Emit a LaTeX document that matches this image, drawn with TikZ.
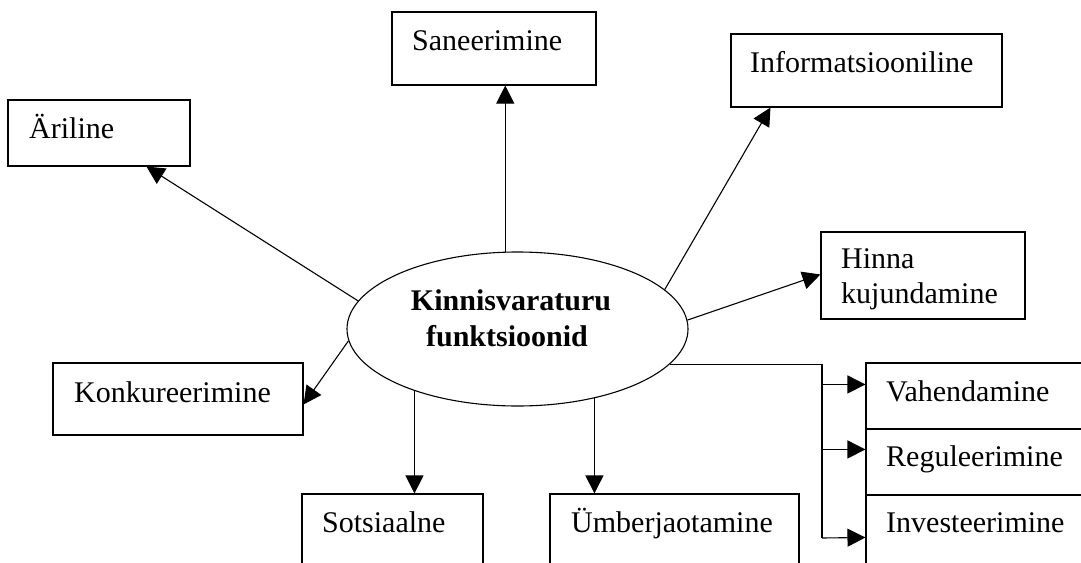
\documentclass[tikz,border=0pt]{standalone}
\usepackage{fontspec}
\setmainfont{Liberation Serif}
\usetikzlibrary{shapes.geometric,arrows.meta,calc}
\begin{document}
\begin{tikzpicture}[x=1pt,y=-1pt,
  box/.style={draw, rectangle, line width=1.1pt, inner sep=0pt},
  lbl/.style={anchor=base west, inner sep=0pt, font=\fontsize{30}{36}\selectfont},
  hubtext/.style={anchor=base, inner sep=0pt, font=\fontsize{30}{36}\selectfont\bfseries},
  hub/.style={draw, ellipse, line width=1.1pt, inner sep=0pt,
              minimum width=341pt, minimum height=154pt},
  wire/.style={line width=1.1pt},
  arr/.style={line width=1.1pt, -{Triangle[length=18pt,width=18pt]}}]
\useasboundingbox (0,0) rectangle (1081,562);
\clip (0,0) rectangle (1081,562);

% central ellipse
\node[hub] (ell) at (517.5,329) {};
\node[hubtext] (ellA) at (511,310) {Kinnisvaraturu};
\node[hubtext] (ellB) at (507,346) {funktsioonid};

% function boxes
\node[box, minimum width=182pt, minimum height=66pt] (ari) at (99,133) {};
\node[lbl] (ariT) at (29,138) {Äriline};

\node[box, minimum width=204pt, minimum height=73pt] (san) at (494,48.5) {};
\node[lbl] (sanT) at (412,50) {Saneerimine};

\node[box, minimum width=271pt, minimum height=73pt] (inf) at (866.5,70.5) {};
\node[lbl] (infT) at (750,72) {Informatsiooniline};

\node[box, minimum width=204pt, minimum height=87pt] (hin) at (923,275.5) {};
\node[lbl] (hinT1) at (841,268) {Hinna};
\node[lbl] (hinT2) at (841,303) {kujundamine};

\node[box, minimum width=250pt, minimum height=72pt] (kon) at (178,399) {};
\node[lbl] (konT) at (74,402) {Konkureerimine};

\node[box, minimum width=181pt, minimum height=136pt] (sot) at (392.5,562) {};
\node[lbl] (sotT) at (322,532) {Sotsiaalne};

\node[box, minimum width=249pt, minimum height=136pt] (umb) at (674.5,562) {};
\node[lbl] (umbT) at (571,532) {Ümberjaotamine};

\node[box, minimum width=254pt, minimum height=66pt] (vah) at (993,396) {};
\node[lbl] (vahT) at (886,401) {Vahendamine};

\node[box, minimum width=254pt, minimum height=66pt] (reg) at (993,462) {};
\node[lbl] (regT) at (886,466.5) {Reguleerimine};

\node[box, minimum width=254pt, minimum height=135pt] (inv) at (993,562.5) {};
\node[lbl] (invT) at (886,532) {Investeerimine};

% connectors from the ellipse
\draw[arr] (ell.170.3) -- ($(ari.south west)+(139,0)$);
\draw[arr] (ell.99.24) -- (ell.99.24 |- san.south);
\draw[arr] (ell.15.07) -- ($(inf.south west)+(40,0)$);
\draw[arr] (ell.3.7) -- ($(hin.north west)+(0,43)$);
\draw[arr] (ell.184.4) -- ($(kon.north east)+(0,42)$);
\draw[arr] (ell.211) -- (ell.211 |- sot.north);
\draw[arr] (ell.318.9) -- (ell.318.9 |- umb.north);

% bus feeding the stacked boxes
\coordinate (bus) at (822,538);
\coordinate (vahIn) at ($(vah.north west)+(0,22)$);
\coordinate (regIn) at ($(reg.north west)+(0,21)$);
\coordinate (invIn) at ($(inv.north west)+(0,43)$);
\draw[wire] (ell.347.7) -| (bus);
\draw[arr] (bus |- vahIn) -- (vahIn);
\draw[arr] (bus |- regIn) -- (regIn);
\draw[arr] (bus) -- (invIn);
\end{tikzpicture}
\end{document}
